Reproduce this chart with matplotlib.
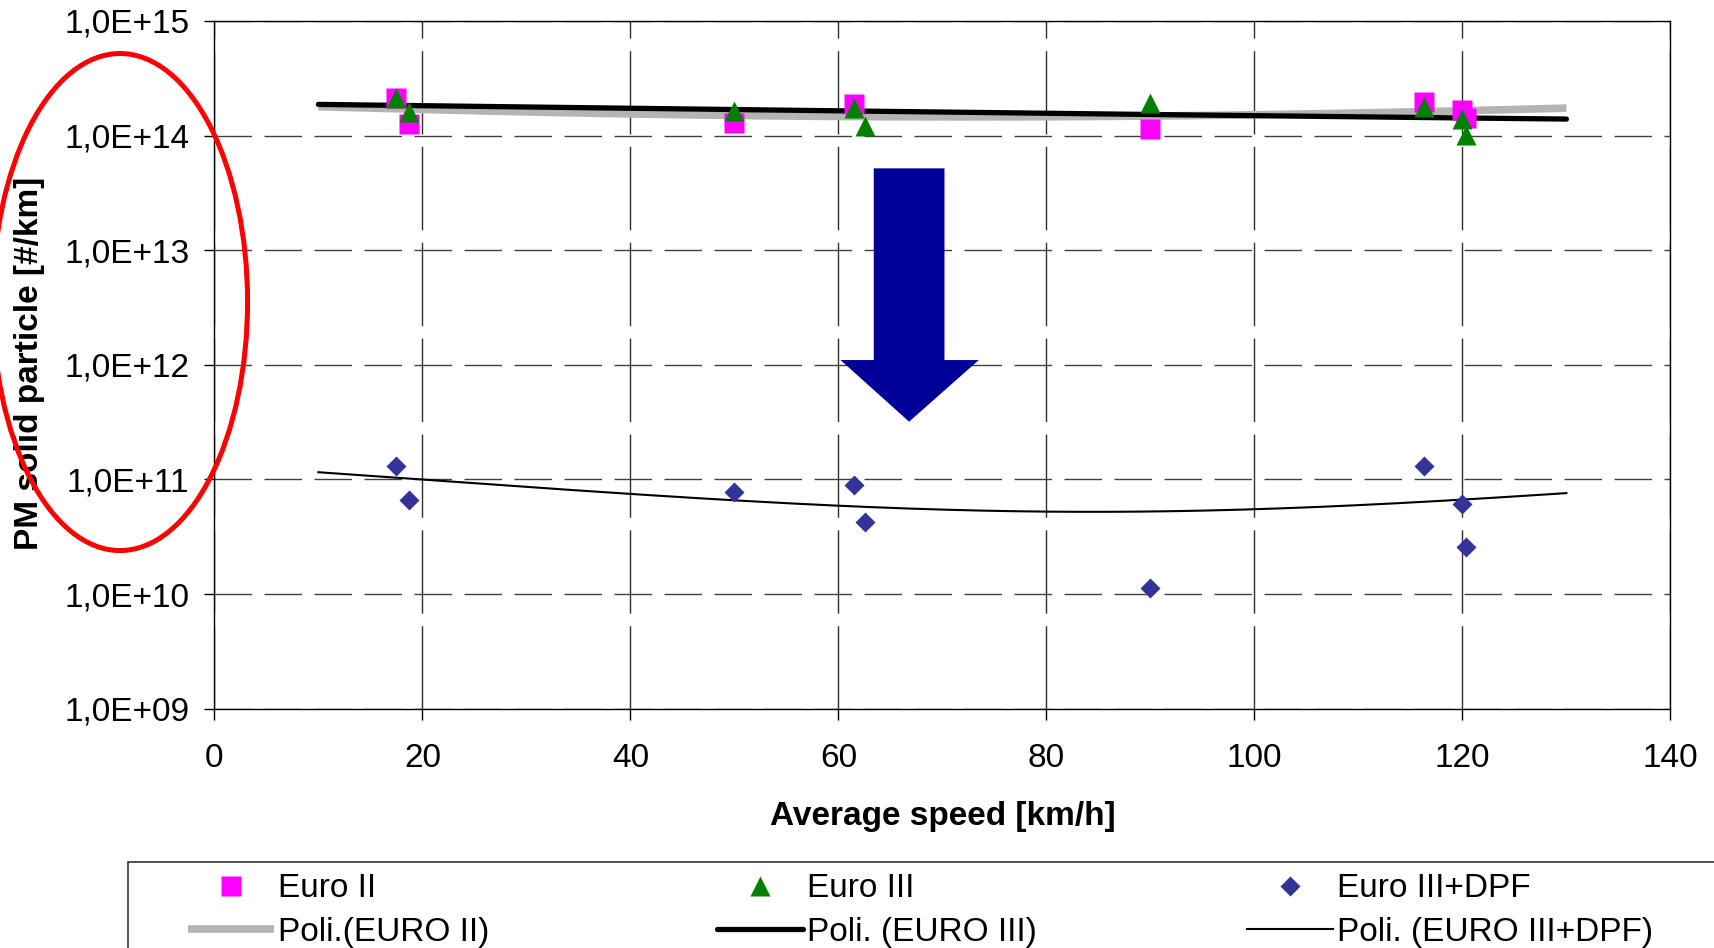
import numpy as np
import matplotlib
matplotlib.use("Agg")
import matplotlib.pyplot as plt
from matplotlib.patches import Ellipse, Polygon, Rectangle
from matplotlib.lines import Line2D
from matplotlib.ticker import FixedLocator, FuncFormatter

plt.rcParams['font.family'] = ['Liberation Sans', 'DejaVu Sans']

# Data (average speed in km/h, solid particles per km)
speed_euro2 = [17.5, 18.7, 50.0, 61.5, 90.0, 116.3, 120.0, 120.3]
pn_euro2 = [2.13e14, 1.25e14, 1.29e14, 1.90e14, 1.14e14, 1.95e14, 1.67e14, 1.42e14]

speed_euro3 = [17.5, 18.7, 50.0, 61.5, 62.6, 90.0, 116.3, 120.0, 120.3]
pn_euro3 = [2.13e14, 1.61e14, 1.64e14, 1.73e14, 1.21e14, 1.91e14, 1.77e14, 1.40e14, 1.01e14]

speed_dpf = [17.5, 18.7, 50.0, 61.5, 62.6, 90.0, 116.3, 120.0, 120.3]
pn_dpf = [1.31e11, 6.57e10, 7.80e10, 8.87e10, 4.28e10, 1.12e10, 1.32e11, 6.14e10, 2.58e10]

labels = ["Euro II", "Euro III", "Euro III+DPF"]
trend_labels = ["Poli.(EURO II)", "Poli. (EURO III)", "Poli. (EURO III+DPF)"]
trend_range = [10, 130]
x_ticks = [0, 20, 40, 60, 80, 100, 120, 140]
y_exponents = [9, 10, 11, 12, 13, 14, 15]

MAGENTA = "#ff00ff"
GREEN = "#008000"
NAVY = "#333399"
GREY = "#b4b4b4"


def poly_trend(x, y):
    # second order polynomial fit, like the spreadsheet trendline
    coef = np.polyfit(x, y, 2)
    xs = np.linspace(trend_range[0], trend_range[1], 200)
    return xs, np.polyval(coef, xs)


fig = plt.figure(figsize=(17.15, 9.48), dpi=100)
ax = fig.add_axes([0.125, 0.2524, 0.849, 0.7256])
ax.set_yscale("log")
ax.set_xlim(0, 140)
ax.set_ylim(1e9, 1e15)

# grid
ax.xaxis.set_major_locator(FixedLocator(x_ticks))
ax.yaxis.set_major_locator(FixedLocator([10.0 ** e for e in y_exponents]))
ax.yaxis.set_minor_locator(FixedLocator([]))
ax.yaxis.set_major_formatter(FuncFormatter(lambda v, p: "1,0E+%02d" % round(np.log10(v))))
ax.grid(axis="y", color="#404040", lw=1.0, dashes=(27, 9))
ax.grid(axis="x", color="#303030", lw=1.0, dashes=(60, 9))
ax.set_axisbelow(True)

ax.tick_params(axis="both", labelsize=24, direction="out", color="black", width=1.0)
ax.tick_params(axis="x", length=8, pad=17)
ax.tick_params(axis="y", length=7, pad=11)
for s in ax.spines.values():
    s.set_linewidth(1.0)
    s.set_color("black")

# trendlines
xs, ys = poly_trend(speed_euro2, pn_euro2)
ax.plot(xs, ys, color=GREY, lw=5.5, solid_capstyle="butt", zorder=2)
xs, ys = poly_trend(speed_euro3, pn_euro3)
ax.plot(xs, ys, color="black", lw=3.8, solid_capstyle="round", zorder=2)
xs, ys = poly_trend(speed_dpf, pn_dpf)
ax.plot(xs, ys, color="black", lw=1.5, zorder=2)

# measured points
ax.plot(speed_euro2, pn_euro2, ls="none", marker="s", ms=14, color=MAGENTA, mec="none", zorder=3)
ax.plot(speed_euro3, pn_euro3, ls="none", marker="^", ms=15, color=GREEN, mec="none", zorder=4)
ax.plot(speed_dpf, pn_dpf, ls="none", marker="D", ms=10.5, color=NAVY, mec="none", zorder=3)

# big blue arrow pointing down (annotation)
arrow = Polygon([(63.4, 5.17e13), (70.2, 5.17e13), (70.2, 1.1e12), (73.5, 1.1e12),
                 (66.8, 3.19e11), (60.2, 1.1e12), (63.4, 1.1e12)],
                closed=True, facecolor="#000099", edgecolor="none", zorder=5)
ax.add_patch(arrow)

# axis titles
fig.text(0.5495, 0.1392, "Average speed [km/h]", fontsize=24, fontweight="bold",
         ha="center", va="center")
fig.text(0.0172, 0.617, "PM solid particle [#/km]", fontsize=24, fontweight="bold",
         rotation=90, ha="center", va="center")

# red ellipse around the y axis labels
fig.add_artist(Ellipse((0.070, 0.6814), 0.1487, 0.5243, transform=fig.transFigure,
                       fill=False, edgecolor="red", lw=3.6, zorder=10))

# legend: framed box running off the figure, three columns
fig.add_artist(Rectangle((0.0746, -0.1), 1.0, 0.1907, transform=fig.transFigure,
                         fill=False, edgecolor="#222222", lw=1.1))
col_handles = [
    [Line2D([], [], ls="none", marker="s", ms=14, color=MAGENTA, mec="none"),
     Line2D([], [], color=GREY, lw=5.5, solid_capstyle="butt")],
    [Line2D([], [], ls="none", marker="^", ms=15, color=GREEN, mec="none"),
     Line2D([], [], color="black", lw=3.8, solid_capstyle="round")],
    [Line2D([], [], ls="none", marker="D", ms=10.5, color=NAVY, mec="none"),
     Line2D([], [], color="black", lw=1.5)],
]
col_x = [0.1095, 0.4178, 0.7270]
for i in range(3):
    fig.legend(col_handles[i], [labels[i], trend_labels[i]], loc="center left",
               bbox_to_anchor=(col_x[i], 0.0393), bbox_transform=fig.transFigure,
               frameon=False, fontsize=24, handlelength=2.6, handletextpad=0.1,
               labelspacing=0.38, borderpad=0, borderaxespad=0)

fig.savefig("out.png", dpi=100)
